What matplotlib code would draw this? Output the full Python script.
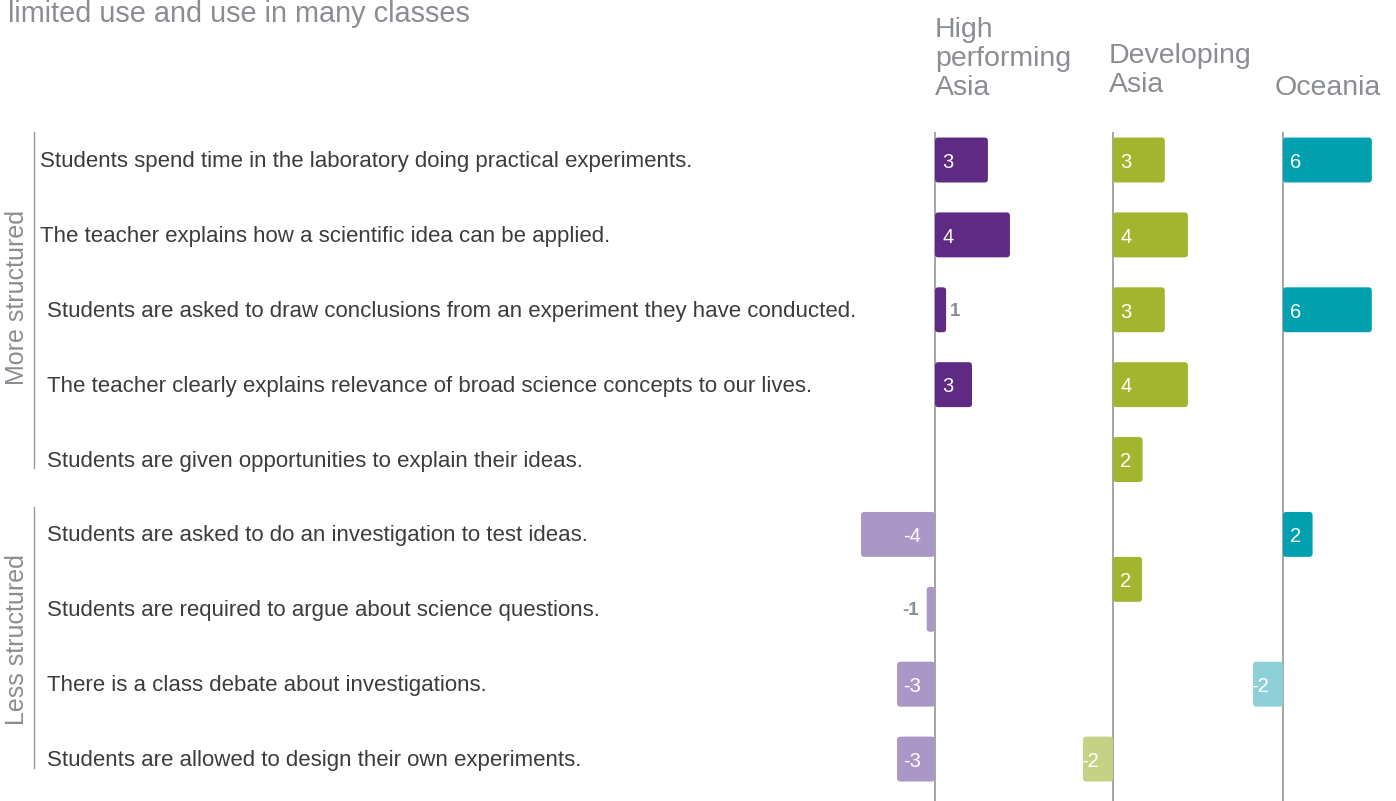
import matplotlib.pyplot as plt
import matplotlib.transforms as mtransforms
from matplotlib.patches import FancyBboxPatch
from matplotlib.lines import Line2D

plt.rcParams['font.family'] = ['Liberation Sans', 'DejaVu Sans']

# Chart data
statements = [
    'Students spend time in the laboratory doing practical experiments.',
    'The teacher explains how a scientific idea can be applied.',
    'Students are asked to draw conclusions from an experiment they have conducted.',
    'The teacher clearly explains relevance of broad science concepts to our lives.',
    'Students are given opportunities to explain their ideas.',
    'Students are asked to do an investigation to test ideas.',
    'Students are required to argue about science questions.',
    'There is a class debate about investigations.',
    'Students are allowed to design their own experiments.',
]
groups = ['More structured', 'Less structured']
regions = ['High\nperforming\nAsia', 'Developing\nAsia', 'Oceania']

# bar lengths and the printed labels, per region (row index -> value)
hpa_rows = [0, 1, 2, 3, 5, 6, 7, 8]
hpa_len = [2.86, 4.05, 0.6, 2.0, -4.0, -0.45, -2.05, -2.05]
hpa_lab = [3, 4, 1, 3, -4, -1, -3, -3]

da_rows = [0, 1, 2, 3, 4, 5.6, 8]
da_len = [2.8, 4.05, 2.8, 4.05, 1.6, 1.57, -1.62]
da_lab = [3, 4, 3, 4, 2, 2, -2]

oc_rows = [0, 2, 5, 7]
oc_len = [4.8, 4.8, 1.6, -1.62]
oc_lab = [6, 6, 2, -2]

colors = [('#5f2a84', '#ab97c5'), ('#a3b52e', '#c5d183'), ('#00a0ae', '#8ed0d7')]

# layout in pixels
W, H = 1396, 801
S = 18.5  # px per unit
fig = plt.figure(figsize=(W / 100, H / 100), dpi=100)
top_px = 132
ylim = (8.56, -0.374)
panels = [(850, 935, 1100), (1060, 1113, 1270), (1235, 1283, 1396)]
series = [(hpa_rows, hpa_len, hpa_lab), (da_rows, da_len, da_lab), (oc_rows, oc_len, oc_lab)]

axes = []
for (left, base, right), (rows, lens, labs), (pos_c, neg_c) in zip(panels, series, colors):
    ax = fig.add_axes([left / W, 0, (right - left) / W, (H - top_px) / H])
    ax.set_xlim((left - base) / S, (right - base) / S)
    ax.set_ylim(*ylim)
    ax.axis('off')
    ax.patch.set_alpha(0)
    ax.axvline(0, color='#8c8c8c', lw=1.1, zorder=1)
    bars = ax.barh(rows, lens, height=0.6)
    # swap plain bars for rounded ones
    aspect = S / ((H - top_px) / (ylim[0] - ylim[1]))
    for p, v in zip(bars.patches, lens):
        x0 = min(p.get_x(), p.get_x() + p.get_width())
        fb = FancyBboxPatch((x0, p.get_y()), abs(p.get_width()), p.get_height(),
                            boxstyle='round,pad=0,rounding_size=0.18',
                            mutation_aspect=aspect,
                            fc=pos_c if v > 0 else neg_c, ec='none', zorder=2)
        p.remove()
        ax.add_patch(fb)
    for r, v, lab in zip(rows, lens, labs):
        if abs(v) < 1:
            if v > 0:
                ax.text(v + 0.2, r + 0.02, str(lab), color='#8a8d91', fontsize=13.5,
                        ha='left', va='center', fontweight='bold')
            else:
                ax.text(-0.88, r + 0.02, str(lab), color='#8a8d91', fontsize=13.5,
                        ha='right', va='center', fontweight='bold')
        elif v > 0:
            ax.text(0.38, r + 0.03, str(lab), color='white', fontsize=14.5,
                    ha='left', va='center')
        else:
            ax.text(-0.76, r + 0.03, str(lab), color='white', fontsize=14.5,
                    ha='right', va='center')
    axes.append(ax)

# statements on the left, aligned with rows
tr = mtransforms.blended_transform_factory(fig.transFigure, axes[0].transData)
for i, s in enumerate(statements):
    x = 40 if i < 2 else 47
    fig.text(x / W, i + 0.02, s, transform=tr, fontsize=16, color='#3c3c3c',
             ha='left', va='center')

# group brackets and labels
fig.add_artist(Line2D([34 / W, 34 / W], [-0.37, 4.11], transform=tr, color='#9a9a9a', lw=1))
fig.add_artist(Line2D([34 / W, 34 / W], [4.63, 8.12], transform=tr, color='#9a9a9a', lw=1))
fig.text(17 / W, 1.83, groups[0], transform=tr, rotation=90, fontsize=18,
         color='#8a8d91', ha='center', va='center')
fig.text(17 / W, 6.40, groups[1], transform=tr, rotation=90, fontsize=18,
         color='#8a8d91', ha='center', va='center')

# region headers
for x, yb, txt in zip([935, 1109, 1275], [95, 92, 95], regions):
    fig.text(x / W, 1 - yb / H, txt, fontsize=20.5, color='#8a8d91',
             ha='left', va='baseline', linespacing=1.15)

# title line at the very top (partly outside the reference crop)
fig.text(8 / W, 1 - 22 / H, 'limited use and use in many classes', fontsize=20.8,
         color='#8a8d91', ha='left', va='baseline')

fig.savefig('out.png', dpi=100)
